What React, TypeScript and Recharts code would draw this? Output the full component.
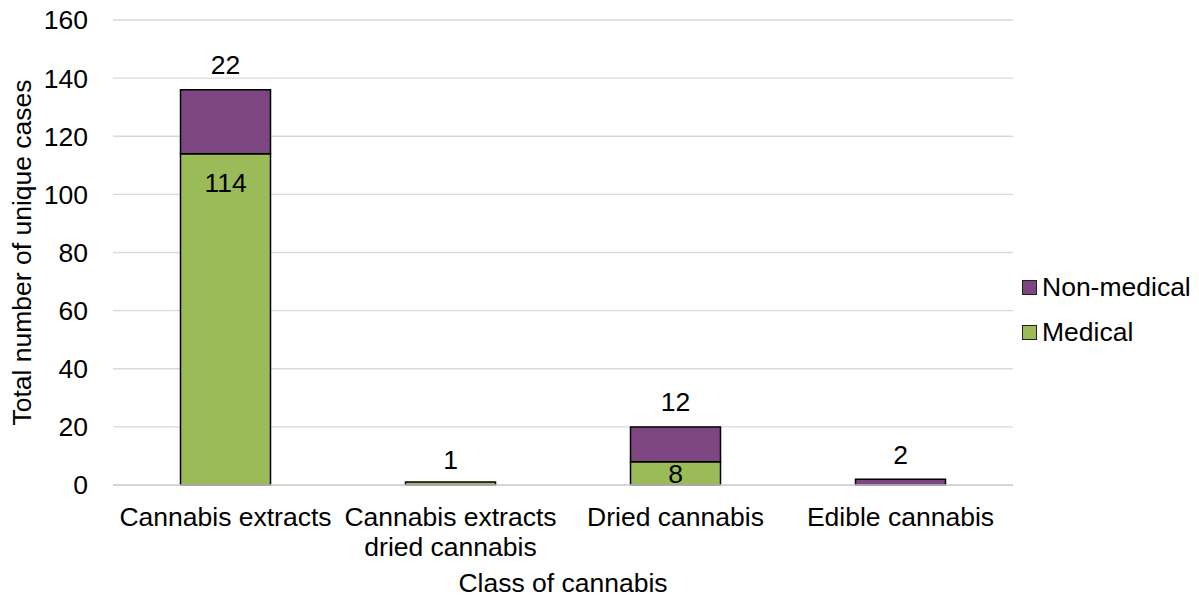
import React from "react";
import { BarChart, Bar, XAxis, YAxis, CartesianGrid, Legend, LabelList, Label } from "recharts";

const categories = [
  "Cannabis extracts",
  "Cannabis extracts\ndried cannabis",
  "Dried cannabis",
  "Edible cannabis",
];
const medical = [114, 1, 8, 0];
const nonMedical = [22, 0, 12, 2];
const yTicks = [0, 20, 40, 60, 80, 100, 120, 140, 160];

const PURPLE = "#7D4680";
const GREEN = "#9BBB59";
const FONT = "'Liberation Sans', Arial, sans-serif";
const FS = 26.5;
const LEGEND_W = 177;

const data = categories.map((c, i) => ({
  name: c,
  medical: medical[i],
  nonMedical: nonMedical[i],
}));

const CategoryTick = (props: any) => {
  const { x, y, payload } = props;
  const lines = String(payload.value).split("\n");
  return (
    <text x={x} y={y} textAnchor="middle" fontFamily={FONT} fontSize={FS} fill="#000">
      {lines.map((l, i) => (
        <tspan key={i} x={x} dy={i === 0 ? 41 : 30}>
          {l}
        </tspan>
      ))}
    </text>
  );
};

// Medical values sit inside the top of their segment, or above the bar when
// they are the only segment in the stack.
const medicalLabel = (props: any) => {
  const { x, y, width, height, value, index } = props;
  if (!value) return null;
  const cx = x + width / 2;
  let cy: number;
  if (!nonMedical[index]) cy = y - 23;
  else if (height < 58) cy = y + height / 2;
  else cy = y + 29;
  return (
    <text x={cx} y={cy} dy="0.355em" textAnchor="middle" fontFamily={FONT} fontSize={FS} fill="#000">
      {value}
    </text>
  );
};

const nonMedicalLabel = (props: any) => {
  const { x, y, width, value } = props;
  if (!value) return null;
  return (
    <text x={x + width / 2} y={y - 25} dy="0.355em" textAnchor="middle" fontFamily={FONT} fontSize={FS} fill="#000">
      {value}
    </text>
  );
};

const legendItems = [
  { label: "Non-medical", color: PURPLE },
  { label: "Medical", color: GREEN },
];

const LegendBox = () => (
  <div style={{ fontFamily: FONT, fontSize: FS, color: "#000", width: LEGEND_W }}>
    {legendItems.map((it) => (
      <div key={it.label} style={{ display: "flex", alignItems: "center", height: 45 }}>
        <span
          style={{
            display: "inline-block",
            width: 13,
            height: 13,
            background: it.color,
            border: "1px solid #222",
            marginRight: 5,
          }}
        />
        <span>{it.label}</span>
      </div>
    ))}
  </div>
);

export default function App() {
  return (
    <div style={{ position: "absolute", left: 0, top: 0, width: 1199, height: 598, background: "#fff" }}>
      <BarChart
        width={1199}
        height={598}
        data={data}
        margin={{ top: 20, right: 186 - LEGEND_W, bottom: 0, left: 0 }}
        barCategoryGap="30%"
      >
        <CartesianGrid vertical={false} stroke="#d9d9d9" strokeWidth={1.3} />
        <XAxis
          dataKey="name"
          height={113}
          tickLine={false}
          tickSize={0}
          tickMargin={0}
          axisLine={{ stroke: "#d0d0d0", strokeWidth: 1.3 }}
          tick={<CategoryTick />}
          interval={0}
        >
          <Label
            content={(p: any) => {
              const vb = p.viewBox;
              return (
                <text x={vb.x + vb.width / 2} y={vb.y + 98} dy="0.355em" textAnchor="middle" fontFamily={FONT} fontSize={FS} fill="#000">
                  Class of cannabis
                </text>
              );
            }}
          />
        </XAxis>
        <YAxis
          width={113}
          domain={[0, 160]}
          ticks={yTicks}
          interval={0}
          axisLine={false}
          tickLine={false}
          tickSize={0}
          tickMargin={25}
          tick={{ fontFamily: FONT, fontSize: FS, fill: "#000" }}
        >
          <Label
            content={(p: any) => {
              const vb = p.viewBox;
              const cx = vb.x + 22;
              const cy = vb.y + vb.height / 2;
              return (
                <text
                  x={cx}
                  y={cy}
                  dy="0.355em"
                  textAnchor="middle"
                  transform={`rotate(-90, ${cx}, ${cy})`}
                  fontFamily={FONT}
                  fontSize={FS}
                  fill="#000"
                >
                  Total number of unique cases
                </text>
              );
            }}
          />
        </YAxis>
        <Legend
          layout="vertical"
          align="right"
          verticalAlign="middle"
          content={<LegendBox />}
          wrapperStyle={{ left: 1022, top: 265, width: LEGEND_W }}
        />
        <Bar dataKey="medical" stackId="a" fill={GREEN} stroke="#000" strokeWidth={1.5} isAnimationActive={false}>
          <LabelList dataKey="medical" content={medicalLabel} />
        </Bar>
        <Bar dataKey="nonMedical" stackId="a" fill={PURPLE} stroke="#000" strokeWidth={1.5} isAnimationActive={false}>
          <LabelList dataKey="nonMedical" content={nonMedicalLabel} />
        </Bar>
      </BarChart>
    </div>
  );
}
